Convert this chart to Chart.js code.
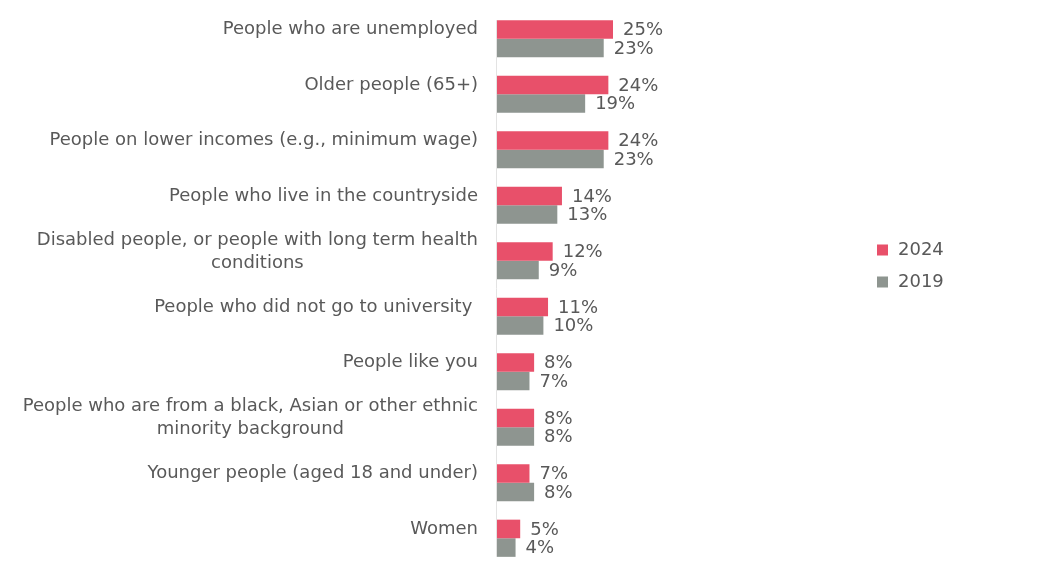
<!DOCTYPE html>
<html>
<head>
<meta charset="utf-8">
<script src="https://cdn.jsdelivr.net/npm/chart.js@4/dist/chart.umd.min.js"></script>
<style>
  html, body { margin: 0; padding: 0; background: #ffffff; }
  #wrap { width: 1057px; height: 579px; position: relative; }
</style>
</head>
<body>
<div id="wrap"><canvas id="chart"></canvas></div>
<script>
// Groups asked about, each drawn as a pair of bars (2024 vs 2019)
const categories = [
  ["People who are unemployed"],
  ["Older people (65+)"],
  ["People on lower incomes (e.g., minimum wage)"],
  ["People who live in the countryside"],
  ["Disabled people, or people with long term health", "conditions"],
  ["People who did not go to university "],
  ["People like you"],
  ["People who are from a black, Asian or other ethnic", "minority background"],
  ["Younger people (aged 18 and under)"],
  ["Women"]
];
const values2024 = [25, 24, 24, 14, 12, 11, 8, 8, 7, 5];
const values2019 = [23, 19, 23, 13, 9, 10, 7, 8, 8, 4];
const seriesNames = ["2024", "2019"];

const RED = "#e8506a";
const GREY = "#8e9590";
const TEXT = "#595959";
const FONT = "18px 'DejaVu Sans', Verdana, sans-serif";

// Axis line, category labels, value labels and legend drawn on the canvas
const annotate = {
  id: "annotate",
  beforeDatasetsDraw(chart) {
    // vertical baseline spanning from the first bar to the last one
    const ctx = chart.ctx;
    const first = chart.getDatasetMeta(0).data[0];
    const lastMeta = chart.getDatasetMeta(1).data;
    const last = lastMeta[lastMeta.length - 1];
    const x = chart.scales.x.getPixelForValue(0);
    ctx.save();
    ctx.strokeStyle = "#e3e3e3";
    ctx.lineWidth = 1;
    ctx.beginPath();
    ctx.moveTo(x - 0.5, first.y - first.height / 2);
    ctx.lineTo(x - 0.5, last.y + last.height / 2);
    ctx.stroke();
    ctx.restore();
  },
  afterDatasetsDraw(chart) {
    const ctx = chart.ctx;
    const area = chart.chartArea;
    ctx.save();
    ctx.font = FONT;
    ctx.fillStyle = TEXT;
    ctx.textBaseline = "middle";

    // category labels: centred block, right edge next to the axis
    const first = chart.getDatasetMeta(0).data;
    const lineH = 23;
    categories.forEach((lines, i) => {
      const cy = first[i].y;
      const widths = lines.map(l => ctx.measureText(l).width);
      const maxW = Math.max(...widths);
      const right = area.left - 19;
      const cx = right - maxW / 2;
      ctx.textAlign = "center";
      lines.forEach((l, k) => {
        const y = cy + (k - (lines.length - 1) / 2) * lineH;
        ctx.fillText(l, cx, y);
      });
    });

    // value labels at the end of each bar
    ctx.textAlign = "left";
    chart.data.datasets.forEach((ds, d) => {
      chart.getDatasetMeta(d).data.forEach((bar, i) => {
        ctx.fillText(ds.data[i] + "%", bar.x + 10, bar.y + 1);
      });
    });

    // legend
    const lx = 877, ly = 250, gap = 32, box = 11;
    chart.data.datasets.forEach((ds, d) => {
      const y = ly + d * gap;
      ctx.fillStyle = ds.backgroundColor;
      ctx.fillRect(lx, y - box / 2, box, box);
      ctx.fillStyle = TEXT;
      ctx.fillText(ds.label, lx + 21, y);
    });
    ctx.restore();
  }
};

new Chart(document.getElementById("chart"), {
  type: "bar",
  data: {
    labels: categories.map(c => c.join(" ")),
    datasets: [
      { label: seriesNames[0], data: values2024, backgroundColor: RED },
      { label: seriesNames[1], data: values2019, backgroundColor: GREY }
    ]
  },
  options: {
    indexAxis: "y",
    responsive: true,
    maintainAspectRatio: false,
    animation: false,
    layout: { padding: { left: 497, right: 96, top: 11, bottom: 13 } },
    datasets: { bar: { categoryPercentage: 0.67, barPercentage: 1.0 } },
    plugins: { legend: { display: false }, tooltip: { enabled: false } },
    scales: {
      x: { display: false, min: 0, max: 100 },
      y: { display: false }
    }
  },
  plugins: [annotate]
});
</script>
</body>
</html>
